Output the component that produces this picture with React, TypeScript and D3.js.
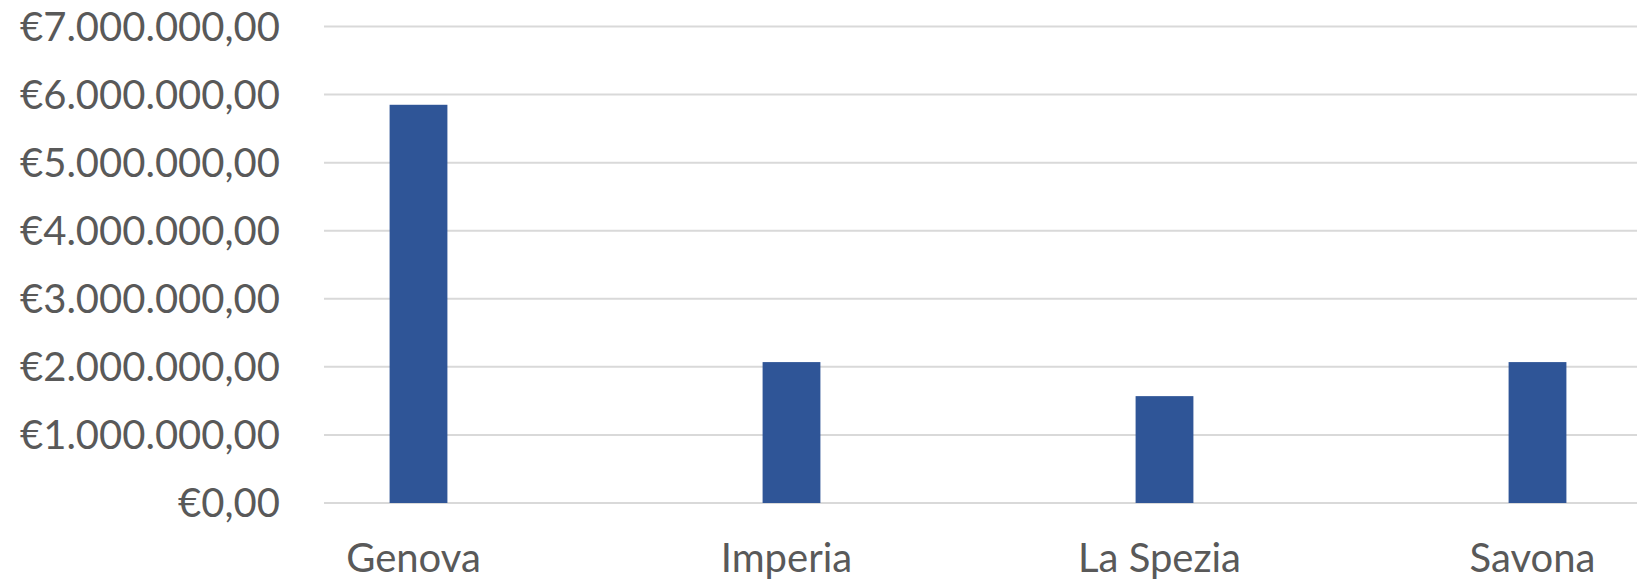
import React from 'react';
import * as d3 from 'd3';

// Province totals (EUR)
const categories = ['Genova', 'Imperia', 'La Spezia', 'Savona'];
const values = [5850000, 2070000, 1570000, 2070000];
const yTicks = [0, 1000000, 2000000, 3000000, 4000000, 5000000, 6000000, 7000000];

const W = 1639;
const H = 583;
const gridLeft = 324;
const gridRight = 1637;
const labelRight = 280;

const euro = d3.formatLocale({
  decimal: ',',
  thousands: '.',
  grouping: [3],
  currency: ['€', '']
}).format('$,.2f');

const App: React.FC = () => {
  const x = d3.scaleBand<string>()
    .domain(categories)
    .range([232, 1724])
    .paddingInner(0.845)
    .paddingOuter(0.4225);

  const y = d3.scaleLinear()
    .domain([0, 7000000])
    .range([503, 26.5]);

  const font = 'Lato, "Open Sans", sans-serif';

  return (
    <svg
      width={W}
      height={H}
      style={{ position: 'absolute', left: 0, top: 0, background: '#fff' }}
    >
      {/* gridlines */}
      {yTicks.map(t => (
        <line
          key={`g${t}`}
          x1={gridLeft}
          x2={gridRight}
          y1={y(t)}
          y2={y(t)}
          stroke="#d9d9d9"
          strokeWidth={2}
        />
      ))}
      {/* y labels */}
      {yTicks.map(t => (
        <text
          key={`l${t}`}
          x={labelRight}
          y={y(t)}
          dy="0.36em"
          textAnchor="end"
          fontFamily={font}
          fontSize={40}
          fill="#595959"
        >
          {euro(t)}
        </text>
      ))}
      {/* bars */}
      {categories.map((c, i) => (
        <rect
          key={c}
          x={x(c)}
          y={y(values[i])}
          width={x.bandwidth()}
          height={y(0) - y(values[i])}
          fill="#2f5597"
        />
      ))}
      {/* category labels */}
      {categories.map(c => (
        <text
          key={`c${c}`}
          x={(x(c) ?? 0) + x.bandwidth() / 2 - 5}
          y={572}
          textAnchor="middle"
          fontFamily={font}
          fontSize={40}
          fill="#595959"
        >
          {c}
        </text>
      ))}
    </svg>
  );
};

export default App;
